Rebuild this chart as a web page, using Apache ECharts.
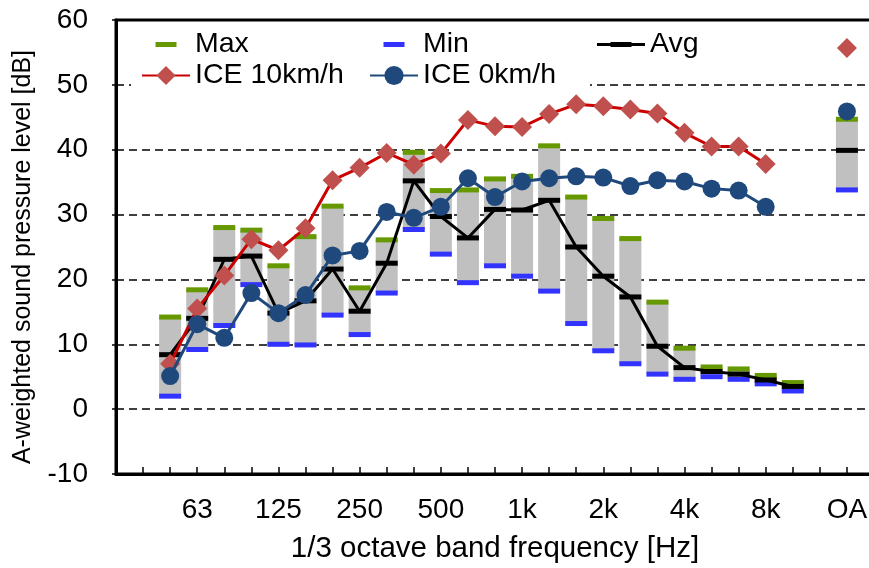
<!DOCTYPE html>
<html>
<head>
<meta charset="utf-8">
<script src="https://cdn.jsdelivr.net/npm/echarts@6/dist/echarts.min.js"></script>
<style>
html, body { margin: 0; padding: 0; background: #fff; }
#chart { width: 869px; height: 568px; }
</style>
</head>
<body>
<div id="chart"></div>
<script>
// 1/3 octave bands, blank slot before OA and one after (cropped edge)
var bands = ['31.5', '40', '50', '63', '80', '100', '125', '160', '200', '250', '315', '400',
    '500', '630', '800', '1k', '1.25k', '1.6k', '2k', '2.5k', '3.15k', '4k', '5k', '6.3k',
    '8k', '10k', '', 'OA', ''];
var shownLabels = ['63', '125', '250', '500', '1k', '2k', '4k', '8k', 'OA'];

var maxLevel = [null, null, 14.2, 18.4, 28.0, 27.6, 22.1, 26.6, 31.3, 18.7, 26.1, 39.6, 33.7, 33.8,
    35.5, 35.9, 40.6, 32.7, 29.4, 26.3, 16.5, 9.4, 6.5, 6.2, 5.2, 4.1, null, 44.7, null];
var minLevel = [null, null, 2.0, 9.2, 12.9, 19.2, 10.0, 9.9, 14.5, 11.5, 17.9, 27.7, 23.9, 19.5,
    22.1, 20.5, 18.2, 13.2, 9.0, 7.0, 5.4, 4.6, 5.0, 4.6, 3.9, 2.8, null, 33.8, null];
var avgLevel = [null, null, 8.4, 14.0, 23.1, 23.6, 14.8, 16.7, 21.6, 15.1, 22.5, 35.2, 29.7, 26.4,
    30.8, 30.7, 32.2, 25.0, 20.5, 17.3, 9.7, 6.4, 5.8, 5.4, 4.5, 3.5, null, 39.9, null];
var ice10 = [null, null, 7.0, 15.5, 20.6, 26.2, 24.5, 27.9, 35.3, 37.2, 39.5, 37.7, 39.4, 44.6,
    43.6, 43.5, 45.5, 47.0, 46.7, 46.2, 45.6, 42.6, 40.5, 40.5, 37.8, null, null, 55.7, null];
var ice0 = [null, null, 5.1, 13.1, 11.0, 17.9, 14.8, 17.6, 23.7, 24.4, 30.4, 29.5, 31.2, 35.6,
    32.7, 35.1, 35.6, 35.9, 35.7, 34.4, 35.3, 35.1, 34.0, 33.7, 31.2, null, null, 45.9, null];

var FONT = 'Liberation Sans, Arial, sans-serif';

var rangeData = [];
bands.forEach(function (b, i) {
    if (minLevel[i] != null) rangeData.push([i, minLevel[i], maxLevel[i]]);
});

// legend icons: 48x24 box, dash in the middle
var dashIcon = 'path://M0,0M48,24M13.5,9.5h21v5h-21z';
var avgIcon = 'path://M0,0M48,24M0,10.5h48v3h-48zM13.5,9.5h21v5h-21z';

function legendAt(left, names, padRight) {
    return {
        left: left,
        top: 24,
        orient: 'vertical',
        itemWidth: 48,
        itemHeight: 24,
        itemGap: 2,
        padding: [6, padRight, 6, 10],
        backgroundColor: '#fff',
        selectedMode: false,
        textStyle: { fontFamily: FONT, fontSize: 28.5, color: '#000' },
        data: names
    };
}

var chart = echarts.init(document.getElementById('chart'));
var option = {
    animation: false,
    backgroundColor: '#fff',
    grid: {
        left: 116, top: 20, width: 758, height: 454,
        containLabel: false, outerBoundsMode: 'none',
        show: true, borderColor: '#000', borderWidth: 3, backgroundColor: 'transparent'
    },
    legend: [
        legendAt(131, [{ name: 'Max', icon: dashIcon }, { name: 'ICE 10km/h' }], 19),
        legendAt(359, [{ name: 'Min', icon: dashIcon }, { name: 'ICE 0km/h' }], 34),
        legendAt(587, [{ name: 'Avg', icon: avgIcon }], 122)
    ],
    xAxis: {
        type: 'category',
        data: bands,
        boundaryGap: false,
        name: '1/3 octave band frequency [Hz]',
        nameLocation: 'middle',
        nameGap: 60,
        nameTextStyle: { fontFamily: FONT, fontSize: 29.5, color: '#000' },
        axisLine: { onZero: false, lineStyle: { color: '#000', width: 3 } },
        axisTick: { show: true, inside: true, length: 7, interval: 0, lineStyle: { color: '#000', width: 1.5 } },
        axisLabel: {
            interval: function (i, v) { return shownLabels.indexOf(v) >= 0; },
            margin: 22,
            fontFamily: FONT, fontSize: 28, color: '#000'
        },
        splitLine: { show: false }
    },
    yAxis: {
        type: 'value',
        min: -10, max: 60, interval: 10,
        name: 'A-weighted sound pressure level [dB]',
        nameLocation: 'middle',
        nameGap: 80,
        nameTextStyle: { fontFamily: FONT, fontSize: 25, color: '#000', padding: [0, 20, 0, 0] },
        axisLine: { show: true, onZero: false, lineStyle: { color: '#000', width: 3 } },
        axisTick: { show: true, length: 4, lineStyle: { color: '#000', width: 1.5 } },
        axisLabel: { margin: 28, fontFamily: FONT, fontSize: 28, color: '#000' },
        splitLine: { show: true, lineStyle: { color: '#000', width: 1.6, type: [8, 5] } }
    },
    series: [{
        name: 'Range',
        type: 'custom',
        z: 1,
        data: rangeData,
        encode: { x: 0, y: [1, 2] },
        renderItem: function (params, api) {
            var top = api.coord([api.value(0), api.value(2)]);
            var bot = api.coord([api.value(0), api.value(1)]);
            return {
                type: 'rect',
                shape: { x: top[0] - 11, y: top[1], width: 22, height: bot[1] - top[1] },
                style: { fill: '#c0c0c0' }
            };
        }
    }, {
        name: 'Max',
        type: 'scatter',
        z: 3,
        data: maxLevel,
        symbol: 'rect',
        symbolSize: [22, 5],
        itemStyle: { color: '#669900', borderWidth: 0, opacity: 1 }
    }, {
        name: 'Min',
        type: 'scatter',
        z: 3,
        data: minLevel,
        symbol: 'rect',
        symbolSize: [22, 5],
        itemStyle: { color: '#3333ff', borderWidth: 0, opacity: 1 }
    }, {
        name: 'Avg',
        type: 'line',
        z: 4,
        data: avgLevel,
        symbol: 'rect',
        symbolSize: [22, 5],
        showAllSymbol: true,
        lineStyle: { color: '#000', width: 3 },
        itemStyle: { color: '#000', borderWidth: 0 }
    }, {
        name: 'ICE 10km/h',
        type: 'line',
        z: 5,
        data: ice10,
        symbol: 'diamond',
        symbolSize: 20,
        showAllSymbol: true,
        lineStyle: { color: '#cc0000', width: 3 },
        itemStyle: { color: '#c0504d', borderWidth: 0 }
    }, {
        name: 'ICE 0km/h',
        type: 'line',
        z: 6,
        data: ice0,
        symbol: 'circle',
        symbolSize: 18,
        showAllSymbol: true,
        lineStyle: { color: '#1f497d', width: 3 },
        itemStyle: { color: '#1f497d', borderWidth: 0 }
    }]
};
chart.setOption(option);
</script>
</body>
</html>
